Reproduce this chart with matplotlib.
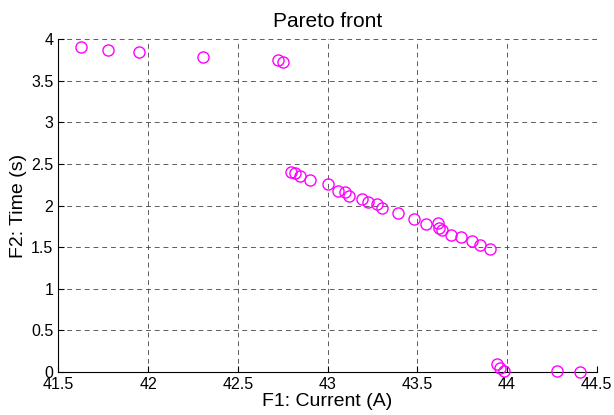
import matplotlib
matplotlib.use("Agg")
import matplotlib.pyplot as plt
import numpy as np

plt.rcParams['font.family'] = ['Liberation Sans', 'DejaVu Sans']

current = [41.626, 41.778, 41.951, 42.304, 42.725, 42.753,
           42.794, 42.818, 42.846, 42.900, 43.003, 43.059, 43.096, 43.120,
           43.191, 43.228, 43.273, 43.304, 43.393, 43.482, 43.551, 43.616,
           43.621, 43.635, 43.687, 43.746, 43.802, 43.848, 43.904,
           43.943, 43.959, 43.982, 44.278, 44.405]
time_s = [3.903, 3.862, 3.843, 3.782, 3.750, 3.722,
          2.407, 2.396, 2.356, 2.308, 2.260, 2.179, 2.167, 2.119,
          2.076, 2.047, 2.019, 1.967, 1.907, 1.835, 1.779, 1.787,
          1.727, 1.707, 1.647, 1.619, 1.575, 1.526, 1.475,
          0.096, 0.052, 0.016, 0.012, 0.000]

xticks = [41.5, 42, 42.5, 43, 43.5, 44, 44.5]
yticks = [0, 0.5, 1, 1.5, 2, 2.5, 3, 3.5, 4]

fig = plt.figure(figsize=(6.14, 4.15), dpi=100)
ax = fig.add_axes([0.095, 0.1036, 0.877, 0.8024])
ax.plot(current, time_s, linestyle='none', marker='o', markersize=8,
        markerfacecolor='none', markeredgecolor='#ff00ff', markeredgewidth=1.0,
        clip_on=False, zorder=3)
ax.set_xlim(41.5, 44.5)
ax.set_ylim(0, 4)
ax.set_xticks(xticks)
ax.set_xticklabels([f"{t:g}" for t in xticks])
ax.set_yticks(yticks)
ax.set_yticklabels([f"{t:g}" for t in yticks])
ax.grid(True, color='#333333', linestyle=(0, (5, 4)), linewidth=0.7, alpha=0.8)
ax.spines['top'].set_visible(False)
ax.spines['right'].set_visible(False)
ax.tick_params(direction='in', length=4, labelsize=11.5, pad=3.5)
ax.set_title('Pareto front', fontsize=15, pad=9)
ax.set_xlabel('F1: Current (A)', fontsize=14, labelpad=1)
ax.set_ylabel('F2: Time (s)', fontsize=14, labelpad=3)
fig.savefig('out.png', dpi=100)
